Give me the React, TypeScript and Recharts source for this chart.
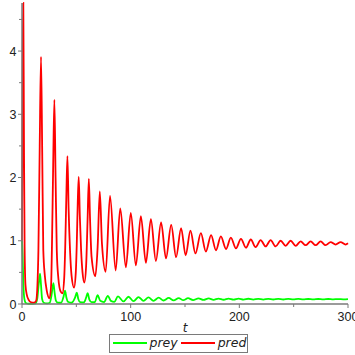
import { LineChart, Line, XAxis, YAxis } from "recharts";

// [t, value] pairs
const predPoints: [number, number][] = [
  [0, 1.0], [0.7, 4.0], [1.2, 4.76], [1.8, 2.6], [2.4, 0.9], [3.2, 0.3], [4.5, 0.14], [6, 0.07],
  [8.5, 0.025], [11, 0.02], [13, 0.05], [14.2, 0.3], [15.1, 0.85], [16.3, 2.5], [17.5, 3.91],
  [18.6, 2.4], [19.6, 0.85], [21, 0.45], [22.7, 0.22], [25.3, 0.09], [26.8, 0.3], [27.5, 0.85],
  [28.7, 2.2], [29.8, 3.23], [30.9, 2.0], [32, 0.85], [33.5, 0.4], [35.5, 0.2], [37.2, 0.17],
  [38.8, 0.4], [39.7, 0.85], [40.8, 1.7], [41.8, 2.34], [42.9, 1.5], [44.2, 0.85], [45.6, 0.45],
  [47.9, 0.26], [49.5, 0.5], [50.4, 0.95], [51.3, 1.6], [52.2, 2.01], [53.2, 1.4], [54.4, 0.85],
  [55.7, 0.5], [57.4, 0.34], [59, 0.6], [60.3, 1.3], [61.5, 1.98], [62.6, 1.35], [64, 0.75],
  [67.5, 0.44], [69.6, 0.9], [71.6, 1.78], [73.6, 0.95], [77, 0.51], [81, 1.71], [86.2, 0.53],
  [90.4, 1.51], [95.6, 0.58], [100.1, 1.44], [104.8, 0.61], [109.4, 1.39], [114, 0.65],
  [118.6, 1.34], [123.2, 0.68], [128, 1.29], [132.5, 0.72], [137.3, 1.25], [141.8, 0.74],
  [146.4, 1.2], [150.6, 0.77], [155, 1.16], [159.6, 0.8], [164.6, 1.12], [169.2, 0.83],
  [174, 1.09], [178.5, 0.85], [183, 1.07], [187.8, 0.87], [192.2, 1.05], [196.9, 0.88],
  [201.5, 1.03], [206.1, 0.89], [210.5, 1.02], [215, 0.9], [219.6, 1.01], [224.2, 0.91],
  [228.8, 1.01], [233.4, 0.91], [238, 1.0], [242.6, 0.92], [247.2, 1.0], [251.8, 0.92],
  [256.4, 0.99], [261, 0.93], [265.6, 0.99], [270.2, 0.93], [274.8, 0.99], [279.4, 0.93],
  [284, 0.98], [288.6, 0.94], [293.2, 0.98], [297.8, 0.94], [300, 0.96],
];

const preyPoints: [number, number][] = [
  [0, 1.0], [0.6, 0.75], [1.3, 0.3], [2.2, 0.08], [3.5, 0.015], [6, 0.004], [10, 0.003],
  [12.5, 0.01], [14, 0.08], [15.5, 0.33], [16.6, 0.48], [17.5, 0.3], [18.5, 0.08], [20, 0.02],
  [23, 0.01], [25.5, 0.02], [27, 0.12], [28.9, 0.33], [30, 0.18], [31.3, 0.05], [33, 0.02],
  [36, 0.02], [38.3, 0.12], [39.6, 0.21], [40.9, 0.1], [42.3, 0.035], [45.5, 0.02], [48.8, 0.1],
  [50.4, 0.18], [51.8, 0.08], [53.5, 0.03], [57, 0.025], [59, 0.1], [60.4, 0.17], [62, 0.07],
  [64, 0.03], [67, 0.03], [69.6, 0.14], [72, 0.05], [75.5, 0.03], [79, 0.13], [81.8, 0.05],
  [85, 0.035], [88.3, 0.12], [93.5, 0.04], [98, 0.115], [102.7, 0.045], [107.2, 0.11],
  [111.8, 0.05], [116.4, 0.105], [121, 0.05], [125.8, 0.1], [130.3, 0.055], [135, 0.096],
  [139.6, 0.057], [144.2, 0.094], [148.4, 0.06], [152.8, 0.092], [157.4, 0.062], [162.4, 0.09],
  [167, 0.064], [171.8, 0.088], [176.3, 0.066], [180.8, 0.086], [185.6, 0.067], [190, 0.085],
  [194.7, 0.068], [199.3, 0.084], [203.9, 0.069], [208.3, 0.083], [212.8, 0.07], [217.4, 0.082],
  [222, 0.07], [226.6, 0.081], [231.2, 0.071], [235.8, 0.081], [240.4, 0.071], [245, 0.08],
  [249.6, 0.072], [254.2, 0.08], [258.8, 0.072], [263.4, 0.079], [268, 0.073], [272.6, 0.079],
  [277.2, 0.073], [281.8, 0.079], [286.4, 0.073], [291, 0.078], [295.6, 0.074], [300, 0.077],
];

const xTicks = [0, 50, 100, 150, 200, 250, 300];
const xLabels = [0, 100, 200, 300];
const yTicks = [0, 0.5, 1, 1.5, 2, 2.5, 3, 3.5, 4, 4.5];
const yLabels = [0, 1, 2, 3, 4];
const legendItems = [
  { name: "prey", color: "#00ff00" },
  { name: "pred", color: "#ff0000" },
];

const AXIS = "#7a7a7a";
const FONT = "'Liberation Sans', Arial, sans-serif";

const preyData = preyPoints.map(([t, v]) => ({ t, v }));
const predData = predPoints.map(([t, v]) => ({ t, v }));

function XTick(props: any) {
  const { x, y, payload } = props;
  const major = xLabels.includes(payload.value);
  return (
    <g>
      <line x1={x} x2={x} y1={y} y2={y + (major ? 4 : 3)} stroke={AXIS} strokeWidth={1} />
      {major && (
        <text x={x} y={y + 16.5} textAnchor="middle" fontSize={12.5} fill="#222" fontFamily={FONT}>
          {payload.value}
        </text>
      )}
    </g>
  );
}

function YTick(props: any) {
  const { x, y, payload } = props;
  const major = yLabels.includes(payload.value);
  return (
    <g>
      <line x1={x - (major ? 4 : 3)} x2={x} y1={y} y2={y} stroke={AXIS} strokeWidth={1} />
      {major && (
        <text x={x - 5.5} y={y + 4.5} textAnchor="end" fontSize={12.5} fill="#222" fontFamily={FONT}>
          {payload.value}
        </text>
      )}
    </g>
  );
}

export default function App() {
  return (
    <div style={{ position: "relative", width: 355, height: 355 }}>
      <style>{`body{margin:0}`}</style>
      <LineChart width={355} height={355} margin={{ top: 3, right: 7, bottom: 0, left: 0 }}>
        <XAxis
          dataKey="t"
          type="number"
          domain={[0, 300]}
          ticks={xTicks}
          interval={0}
          height={51}
          tickSize={0}
          tickMargin={0}
          tickLine={false}
          tick={<XTick />}
          axisLine={{ stroke: AXIS, strokeWidth: 1.5 }}
          label={{
            value: "t",
            position: "insideTop",
            offset: 19,
            fontStyle: "italic",
            fontSize: 12,
            fill: "#222",
            fontFamily: "'DejaVu Sans', sans-serif",
          }}
        />
        <YAxis
          type="number"
          domain={[0, 4.76]}
          ticks={yTicks}
          interval={0}
          width={22}
          tickSize={0}
          tickMargin={0}
          tickLine={false}
          tick={<YTick />}
          axisLine={{ stroke: AXIS, strokeWidth: 1.5 }}
        />
        <Line
          data={preyData}
          dataKey="v"
          name="prey"
          type="monotone"
          stroke="#00ff00"
          strokeWidth={1.8}
          dot={false}
          activeDot={false}
          isAnimationActive={false}
        />
        <Line
          data={predData}
          dataKey="v"
          name="pred"
          type="monotone"
          stroke="#ff0000"
          strokeWidth={1.8}
          dot={false}
          activeDot={false}
          isAnimationActive={false}
        />
      </LineChart>
      <div
        style={{
          position: "absolute",
          left: 108.5,
          top: 334,
          width: 139.5,
          height: 18.5,
          boxSizing: "border-box",
          border: `1.5px solid ${AXIS}`,
          display: "flex",
          alignItems: "center",
          paddingLeft: 3,
          fontFamily: "'DejaVu Sans', sans-serif",
          fontStyle: "italic",
          fontSize: 12.5,
          color: "#222",
        }}
      >
        {legendItems.map((item, i) => (
          <div key={item.name} style={{ display: "flex", alignItems: "center", marginLeft: i === 0 ? 0 : 3 }}>
            <div style={{ width: 34, height: 2, background: item.color }} />
            <span style={{ marginLeft: 3, lineHeight: "14px" }}>{item.name}</span>
          </div>
        ))}
      </div>
    </div>
  );
}
